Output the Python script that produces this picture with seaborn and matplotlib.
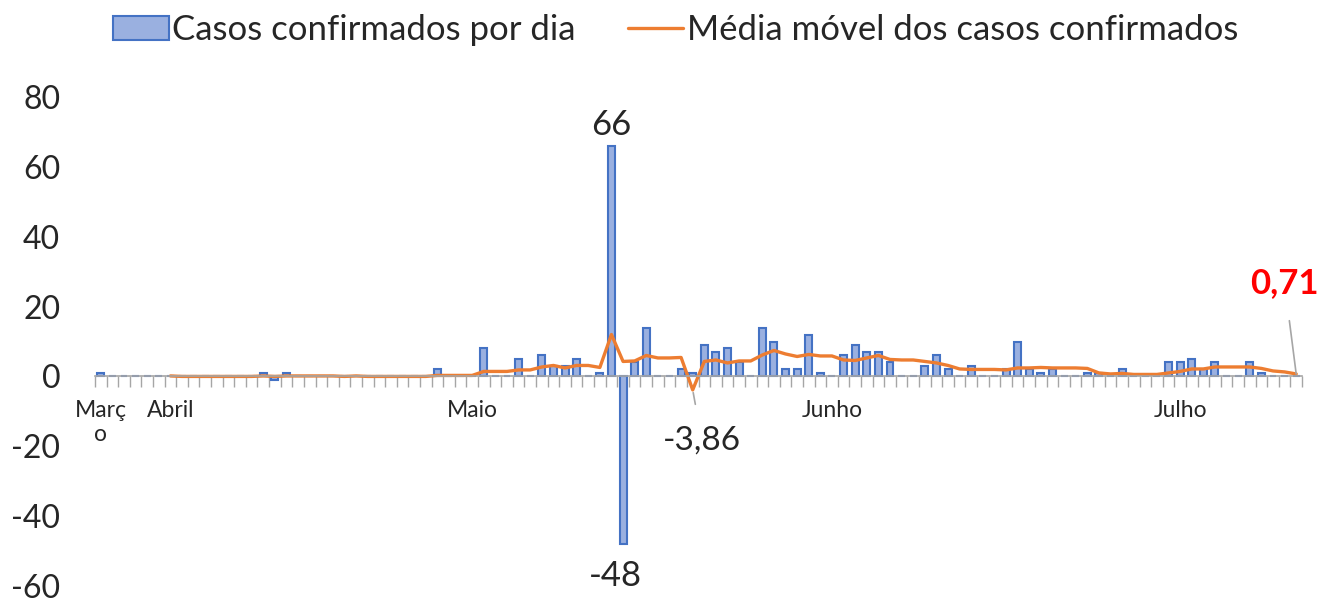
"""
Casos confirmados por dia e média móvel (7 dias).
"""

import numpy as np
import pandas as pd
import matplotlib
matplotlib.use('Agg')
import matplotlib.pyplot as plt
from matplotlib.patches import Patch
from matplotlib.lines import Line2D
from matplotlib.ticker import FixedLocator
import seaborn as sns

sns.set_style("white")
plt.rcParams['font.family'] = ['Lato', 'DejaVu Sans']
plt.rcParams['axes.unicode_minus'] = False

# casos confirmados por dia
casos = [1, 0, 0, 0, 0, 0, 0, 0, 0, 0, 0, 0, 0, 0, 1, -1, 1, 0, 0, 0,
         0, 0, 0, 0, 0, 0, 0, 0, 0, 2, 0, 0, 0, 8, 0, 0, 5, 0, 6, 3,
         3, 5, 0, 1, 66, -48, 4, 14, 0, 0, 2, 1, 9, 7, 8, 4, 0, 14, 10, 2,
         2, 12, 1, 0, 6, 9, 7, 7, 4, 0, 0, 3, 6, 2, 0, 3, 0, 0, 2, 10,
         2, 1, 2, 0, 0, 1, 1, 0, 2, 0, 0, 0, 4, 4, 5, 2, 4, 0, 0, 4,
         1, 0, 0, 0]

# média móvel (começa no dia 6)
media_inicio = 6
media = [0.14, 0, 0, 0, 0, 0, 0, 0, 0.14, 0, 0.14, 0.14, 0.14, 0.14, 0.14, 0, 0.14,
         0, 0, 0, 0, 0, 0, 0.29, 0.29, 0.29, 0.29, 1.43, 1.43, 1.43, 1.86, 1.86,
         2.71, 3.14, 2.43, 3.14, 3.14, 2.57, 12.0, 4.29, 4.43, 6.0, 5.29, 5.29,
         5.43, -3.86, 4.29, 4.71, 3.86, 4.43, 4.43, 6.14, 7.43, 6.43, 5.71, 6.29,
         5.86, 5.86, 4.71, 4.57, 5.29, 6.0, 4.86, 4.71, 4.71, 4.29, 3.86, 3.14,
         2.14, 2.0, 2.0, 2.0, 1.86, 2.43, 2.43, 2.57, 2.43, 2.43, 2.43, 2.29,
         1.0, 0.71, 0.86, 0.57, 0.57, 0.57, 1.0, 1.43, 2.14, 2.14, 2.71, 2.71,
         2.71, 2.71, 2.29, 1.57, 1.29, 0.71]

meses = ['Març\no', 'Abril', 'Maio', 'Junho', 'Julho']
meses_pos = [0, 6, 32, 63, 93]

df = pd.DataFrame({'dia': np.arange(len(casos)), 'casos': casos})
df_media = pd.DataFrame({'dia': np.arange(media_inicio, media_inicio + len(media)),
                         'media': media})

bar_fill = '#9AB0E0'
bar_edge = '#4472C4'
laranja = '#ED7D31'
cinza = '#A6A6A6'

fig = plt.figure(figsize=(13.17, 5.99), dpi=100)
ax = fig.add_axes([95 / 1317, 1 - 586 / 599, (1302 - 95) / 1317, (586 - 97) / 599])

sns.barplot(data=df, x='dia', y='casos', ax=ax, color=bar_fill, saturation=1,
            width=0.6, edgecolor=bar_edge, linewidth=1.5)
sns.lineplot(data=df_media, x='dia', y='media', ax=ax, color=laranja, linewidth=2.4)

ax.set_xlim(-0.5, len(casos) - 0.5)
ax.set_ylim(-60, 80)
ax.set_yticks(range(-60, 81, 20))
ax.tick_params(axis='y', labelsize=23, length=0, pad=25)
ax.set_xlabel('')
ax.set_ylabel('')

for s in ['top', 'right', 'left']:
    ax.spines[s].set_visible(False)
ax.spines['bottom'].set_position(('data', 0))
ax.spines['bottom'].set_color(cinza)
ax.spines['bottom'].set_linewidth(1.2)

ax.set_xticks(meses_pos)
ax.set_xticklabels(meses)
ax.xaxis.set_minor_locator(FixedLocator(np.arange(-0.5, len(casos), 1)))
ax.tick_params(axis='x', which='major', length=0, pad=17, labelsize=16.5)
ax.tick_params(axis='x', which='minor', length=8, width=1, color=cinza,
               direction='out', bottom=True)

# rótulos de dados
ax.text(44, 72, '66', ha='center', va='center', fontsize=25)
ax.text(44.3, -57, '-48', ha='center', va='center', fontsize=25)
ax.annotate('-3,86', xy=(51, -3.86), xytext=(51.8, -18.3), ha='center', va='center',
            fontsize=24, arrowprops=dict(arrowstyle='-', color=cinza, lw=1.2,
                                         shrinkA=13, shrinkB=2))
ax.annotate('0,71', xy=(103, 0.71), xytext=(102.0, 26.6), ha='center', va='center',
            fontsize=25, fontweight='bold', color='#FF0000',
            arrowprops=dict(arrowstyle='-', color=cinza, lw=1.2, shrinkA=13, shrinkB=0))

handles = [Patch(facecolor=bar_fill, edgecolor=bar_edge, linewidth=1.5),
           Line2D([0], [0], color=laranja, linewidth=2.4)]
fig.legend(handles, ['Casos confirmados por dia', 'Média móvel dos casos confirmados'],
           loc='center', bbox_to_anchor=(0.513, 0.95), ncol=2, frameon=False,
           fontsize=25, handlelength=1.6, handletextpad=0.1, columnspacing=1.5)

fig.savefig('out.png', dpi=100)
